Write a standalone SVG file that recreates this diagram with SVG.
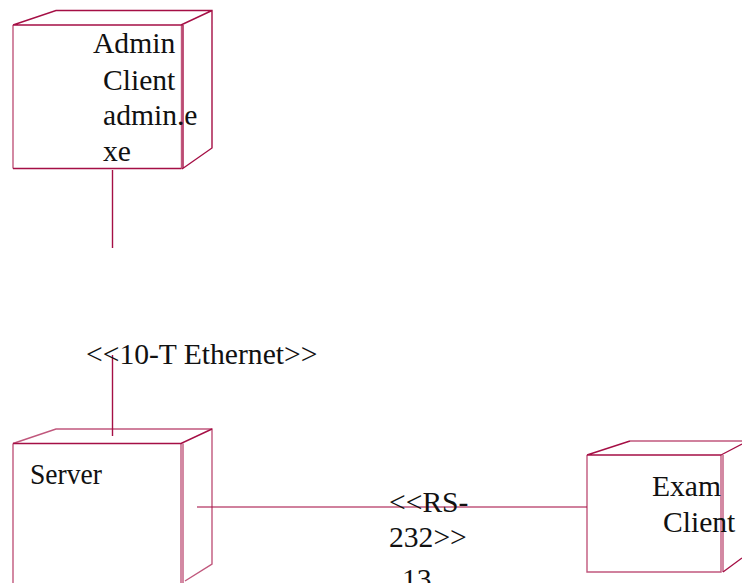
<svg xmlns="http://www.w3.org/2000/svg" width="742" height="583" viewBox="0 0 742 583">
<style>
.l{fill:none;stroke:#a50f45;stroke-width:1.4;stroke-linejoin:miter}
.s{stroke-opacity:.7}
text{font-family:"Liberation Serif","Times New Roman",serif;font-size:29.6px;fill:#111}
</style>
<rect width="742" height="583" fill="#fff"/>
<g id="connectors">
<path class="l" d="M112.500 170V248"/>
<path class="l" d="M112.500 355V436"/>
<path class="l s" d="M197 507H587"/>
</g>
<g id="admin-client">
<path class="l s" d="M13 25V168.500M181.500 25V168.500"/>
<path class="l" d="M13 168.500H181.500M13 25H181.500M13 25L56 10.500H212V148L182 169M181 25L212 10.500M183 25V168"/>
<text x="93" y="53">Admin</text>
<text x="103" y="90">Client</text>
<text x="103" y="125">admin.e</text>
<text x="103" y="161">xe</text>
</g>
<g id="server">
<path class="l s" d="M13 583V443.500M181 443.500V583M183 443.500V583M13 443.500L56 429H212V564L185 581"/>
<path class="l" d="M13 443.500H181L212 429"/>
<text x="30" y="484" textLength="72" lengthAdjust="spacingAndGlyphs">Server</text>
</g>
<g id="exam-client">
<path class="l s" d="M587 455V572H721V455M630 441H742M723 455V572"/>
<path class="l" d="M587 455H721M587 455L630 441M721 455L742 444M723 572L742 558"/>
<text x="652" y="496">Exam</text>
<text x="663" y="532">Client</text>
</g>
<g id="labels">
<text x="86" y="364">&lt;&lt;10-T Ethernet&gt;&gt;</text>
<text x="389" y="512">&lt;&lt;RS-</text>
<text x="389" y="547">232&gt;&gt;</text>
<text x="402" y="589">13</text>
</g>
</svg>
